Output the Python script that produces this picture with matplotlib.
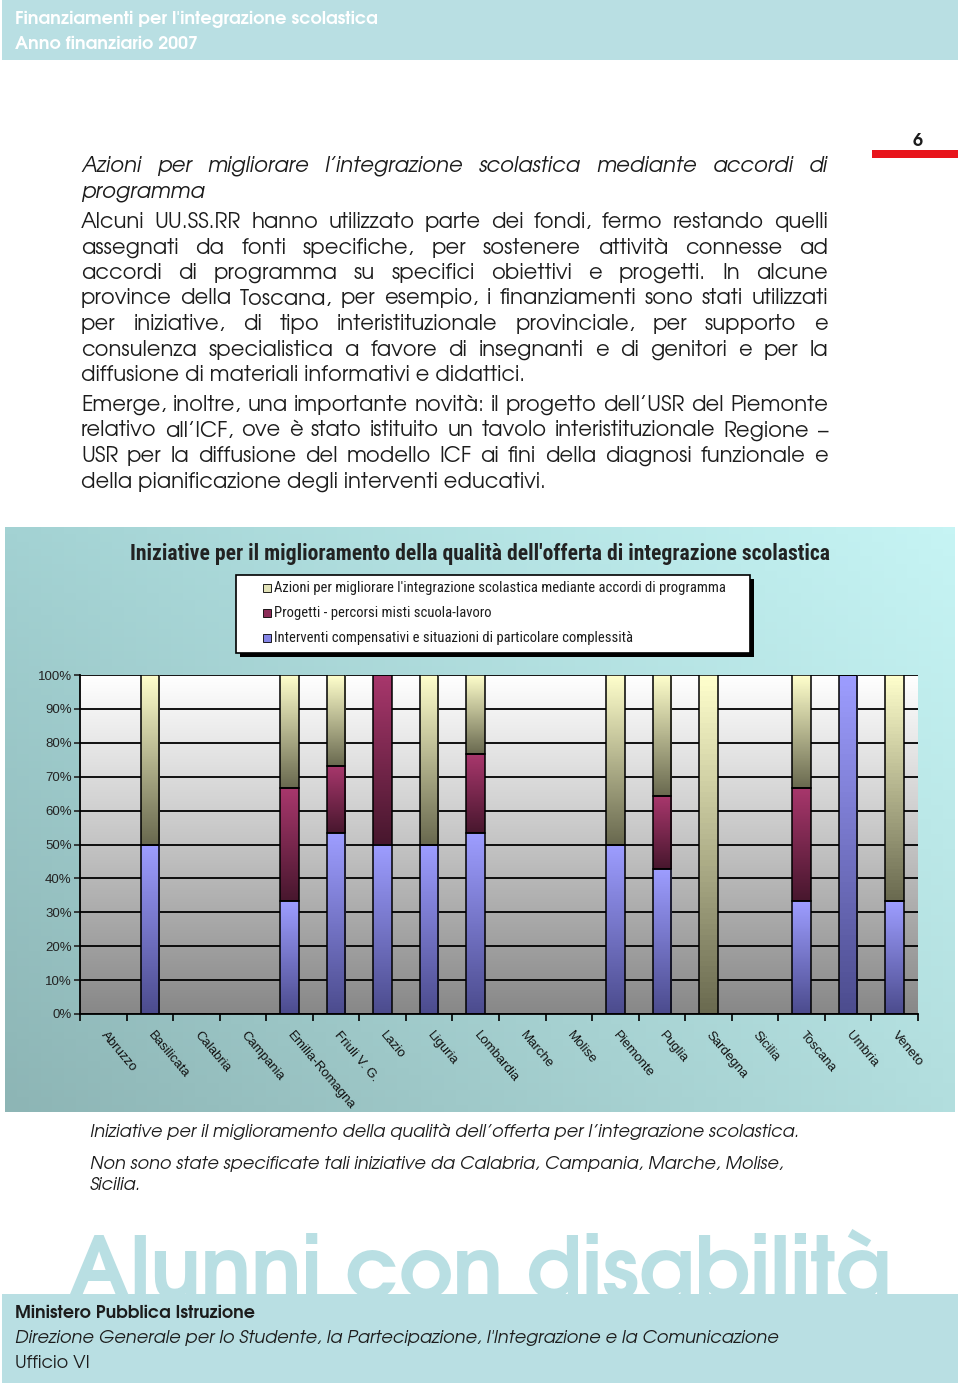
import numpy as np
import matplotlib
matplotlib.use('Agg')
from matplotlib import pyplot as plt
from matplotlib import font_manager
from matplotlib.patches import Rectangle
from matplotlib.colors import LinearSegmentedColormap, to_rgb

W, H = 960, 1389

regions = ['Abruzzo', 'Basilicata', 'Calabria', 'Campania', 'Emilia-Romagna',
           'Friuli V. G.', 'Lazio', 'Liguria', 'Lombardia', 'Marche', 'Molise',
           'Piemonte', 'Puglia', 'Sardegna', 'Sicilia', 'Toscana', 'Umbria', 'Veneto']
# percent shares, stacked bottom -> top
interventi = [0, 50, 0, 0, 33.3, 53.3, 50, 50, 53.3, 0, 0, 50, 42.9, 0, 0, 33.3, 100, 33.3]
progetti = [0, 0, 0, 0, 33.3, 20.0, 50, 0, 23.3, 0, 0, 0, 21.4, 0, 0, 33.4, 0, 0]
azioni = [0, 50, 0, 0, 33.4, 26.7, 0, 50, 23.4, 0, 0, 50, 35.7, 100, 0, 33.3, 0, 66.7]

legend_labels = ["Azioni per migliorare l'integrazione scolastica mediante accordi di programma",
                 'Progetti - percorsi misti scuola-lavoro',
                 'Interventi compensativi e situazioni di particolare complessità']
y_ticks = [0, 10, 20, 30, 40, 50, 60, 70, 80, 90, 100]

chart_title = "Iniziative per il miglioramento della qualità dell'offerta di integrazione scolastica"

title_lines = ['Azioni per migliorare l’integrazione scolastica mediante accordi di',
               'programma']
para1 = ['Alcuni UU.SS.RR hanno utilizzato parte dei fondi, fermo restando quelli',
         'assegnati da fonti specifiche, per sostenere attività connesse ad',
         'accordi di programma su specifici obiettivi e progetti. In alcune',
         'province della Toscana, per esempio, i finanziamenti sono stati utilizzati',
         'per iniziative, di tipo interistituzionale provinciale, per supporto e',
         'consulenza specialistica a favore di insegnanti e di genitori e per la',
         'diffusione di materiali informativi e didattici.']
para2 = ['Emerge, inoltre, una importante novità: il progetto dell’USR del Piemonte',
         'relativo all’ICF, ove è stato istituito un tavolo interistituzionale Regione –',
         'USR per la diffusione del modello ICF ai fini della diagnosi funzionale e',
         'della pianificazione degli interventi educativi.']
caption = ['Iniziative per il miglioramento della qualità dell’offerta per l’integrazione scolastica.',
           'Non sono state specificate tali iniziative da Calabria, Campania, Marche, Molise,',
           'Sicilia.']

installed = {f.name for f in font_manager.fontManager.ttflist}


def pick(*names):
    for n in names:
        if n in installed:
            return n
    return 'DejaVu Sans'


BODY = pick('Century Gothic', 'URW Gothic', 'TeX Gyre Adventor', 'Lato', 'Open Sans')
ARIAL = pick('Liberation Sans', 'Arial')
NARROW = pick('Liberation Sans Narrow', 'Arial Narrow', 'Roboto Condensed', 'Liberation Sans')
TEAL = '#b9dfe3'
INK = '#1c1c1c'

fig = plt.figure(figsize=(W / 100, H / 100), dpi=100)
page = fig.add_axes([0, 0, 1, 1])
page.set_xlim(0, W)
page.set_ylim(H, 0)
page.axis('off')
renderer = fig.canvas.get_renderer()


def width_of(s, **kw):
    t = page.text(0, 0, s, **kw)
    w = t.get_window_extent(renderer).width
    t.remove()
    return w


def fit(s, target, **kw):
    return 10 * target / width_of(s, fontsize=10, **kw)


def justify(lines, x0, x1, y0, step, size, style='normal'):
    for i, line in enumerate(lines):
        y = y0 + i * step
        words = line.split(' ')
        if i == len(lines) - 1 or len(words) == 1:
            page.text(x0, y, line, fontsize=size, family=BODY, style=style,
                      va='baseline', color=INK)
            continue
        ts = [page.text(0, y, w, fontsize=size, family=BODY, style=style,
                        va='baseline', color=INK) for w in words]
        ws = [t.get_window_extent(renderer).width for t in ts]
        gap = (x1 - x0 - sum(ws)) / (len(words) - 1)
        x = x0
        for t, w in zip(ts, ws):
            t.set_x(x)
            x += w + gap


# header band
page.add_patch(Rectangle((2, 0), 956, 60, color=TEAL, lw=0))
hs = fit('Finanziamenti per l\'integrazione scolastica', 362, family=BODY, weight='bold')
page.text(15, 24, 'Finanziamenti per l\'integrazione scolastica', fontsize=hs,
          family=BODY, weight='bold', color='white', va='baseline')
page.text(15, 49, 'Anno finanziario 2007', fontsize=hs, family=BODY,
          weight='bold', color='white', va='baseline')

# page number
page.text(918, 146, '6', fontsize=13, family=BODY, weight='bold', ha='center',
          va='baseline', color=INK)
page.add_patch(Rectangle((872, 150), 86, 8, color='#e8141b', lw=0))

# body text
all_lines = title_lines[:-1] + para1[:-1] + para2[:-1]
body_size = min(10 * 747 / width_of(l, fontsize=10, family=BODY) for l in all_lines) * 0.99
body_size = min(body_size, 15.5)
justify(title_lines, 81, 828, 172, 25.3, body_size, style='italic')
justify(para1, 81, 828, 228, 25.5, body_size)
justify(para2, 81, 828, 411, 25.5, body_size)

# chart background gradient
tl, tr = np.array(to_rgb('#a3d2d3')), np.array(to_rgb('#c6f4f4'))
bl, br = np.array(to_rgb('#8db5b5')), np.array(to_rgb('#b2dede'))
u = np.linspace(0, 1, 80)[None, :, None]
v = np.linspace(0, 1, 80)[:, None, None]
bg = tl * (1 - u) * (1 - v) + tr * u * (1 - v) + bl * (1 - u) * v + br * u * v
page.imshow(bg, extent=(5, 955, 1112, 527), aspect='auto', zorder=1)

cs = fit(chart_title, 702, family=NARROW, weight='bold')
page.text(480, 560, chart_title, fontsize=cs, family=NARROW, weight='bold',
          ha='center', va='baseline', color='#222222', zorder=2)

# legend box
page.add_patch(Rectangle((240, 579), 514, 78, color='black', lw=0, zorder=2))
page.add_patch(Rectangle((236, 575), 514, 78, fc='white', ec='black', lw=1.2, zorder=3))
legend_colors = ['#e2e2b8', '#8c2c58', '#8585e6']
ls = fit(legend_labels[0], 449, family=NARROW)
for i, (lab, col) in enumerate(zip(legend_labels, legend_colors)):
    yc = 588 + 25 * i
    page.add_patch(Rectangle((263, yc - 4.5), 8, 8, fc=col, ec='black', lw=0.6, zorder=4))
    page.text(274, yc, lab, fontsize=ls, family=NARROW, va='center', color=INK, zorder=4)

# plot
ax = fig.add_axes([80 / W, 1 - 1014 / H, (918 - 80) / W, (1014 - 675) / H])
n = len(regions)
x = np.arange(n)
gray = LinearSegmentedColormap.from_list('g', ['#888888', '#ffffff'])
ax.imshow(np.linspace(0, 1, 128).reshape(-1, 1), extent=(-0.5, n - 0.5, 0, 100),
          origin='lower', aspect='auto', cmap=gray, zorder=0)

stack = [(interventi, '#4c4c8e', '#9d9dff'),
         (progetti, '#48172e', '#a8376c'),
         (azioni, '#6a6a50', '#ffffcc')]
bottom = np.zeros(n)
for vals, dark, light in stack:
    vals = np.array(vals, dtype=float)
    bars = ax.bar(x, vals, width=0.4, bottom=bottom, facecolor='none',
                  edgecolor='black', lw=1.1, zorder=3)
    cmap = LinearSegmentedColormap.from_list('c', [dark, light])
    for b in bars:
        if b.get_height() <= 0:
            continue
        ax.imshow(np.linspace(0, 1, 64).reshape(-1, 1), origin='lower',
                  extent=(b.get_x(), b.get_x() + b.get_width(),
                          b.get_y(), b.get_y() + b.get_height()),
                  aspect='auto', cmap=cmap, zorder=2)
    bottom += vals

ax.set_xlim(-0.5, n - 0.5)
ax.set_ylim(0, 100)
ax.set_yticks(y_ticks, [f'{t}%' for t in y_ticks])
ax.yaxis.grid(True, color='black', lw=1.3)
ax.set_axisbelow(True)
ax.tick_params(axis='y', length=4, width=1.2, labelsize=9.5, colors='#222222', pad=2)
for lab in ax.get_yticklabels():
    lab.set_family(ARIAL)
ax.set_xticks(x, regions, rotation=-50, ha='left', va='center', rotation_mode='anchor',
              fontsize=9.5, family=ARIAL, color='#111111')
ax.tick_params(axis='x', which='major', length=0, pad=14)
ax.set_xticks(np.arange(-0.5, n), minor=True)
ax.tick_params(axis='x', which='minor', length=5, width=1.2, direction='out')
for side in ['top', 'right']:
    ax.spines[side].set_visible(False)
for side in ['left', 'bottom']:
    ax.spines[side].set_linewidth(1.3)

# caption
cap_size = fit(caption[0], 710, family=BODY, style='italic')
for i, line in enumerate(caption):
    page.text(90, [1137, 1169, 1190][i], line, fontsize=cap_size, family=BODY,
              style='italic', va='baseline', color=INK)

# footer
big = 'Alunni con disabilità'
bs = fit(big, 825, family=BODY, weight='bold')
bt = page.text(68, 1298, big, fontsize=bs, family=BODY, weight='bold', color=TEAL,
               va='baseline', zorder=1)
bt.set_clip_path(Rectangle((0, 1100), W, 194, transform=page.transData))
page.add_patch(Rectangle((2, 1294), 956, 89, color=TEAL, lw=0, zorder=2))
ms = fit('Ministero Pubblica Istruzione', 240, family=BODY, weight='bold')
page.text(15, 1318, 'Ministero Pubblica Istruzione', fontsize=ms, family=BODY,
          weight='bold', va='baseline', color=INK, zorder=3)
d = 'Direzione Generale per lo Studente, la Partecipazione, l\'Integrazione e la Comunicazione'
dsz = fit(d, 765, family=BODY, style='italic')
page.text(15, 1343, d, fontsize=dsz, family=BODY, style='italic', va='baseline',
          color=INK, zorder=3)
page.text(15, 1368, 'Ufficio VI', fontsize=dsz, family=BODY, va='baseline',
          color=INK, zorder=3)

fig.savefig('out.png', dpi=100)
